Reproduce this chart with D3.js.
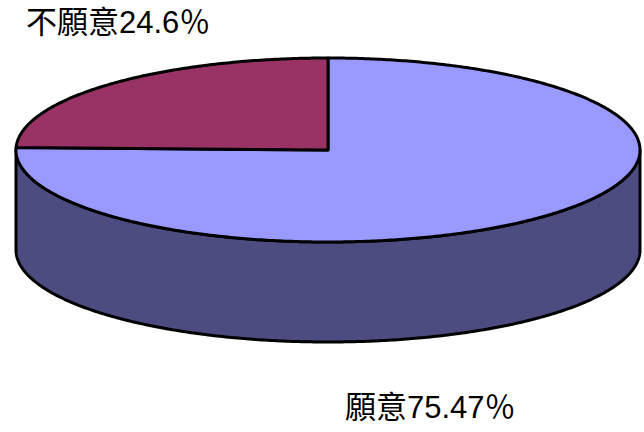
<!DOCTYPE html>
<html>
<head>
<meta charset="utf-8">
<script src="https://cdn.jsdelivr.net/npm/d3@7"></script>
<style>
  html, body { margin: 0; padding: 0; background: #fff; }
  svg { display: block; }
  text { font-family: "Liberation Sans", Arial, "Noto Sans CJK TC", sans-serif; }
</style>
</head>
<body>
<svg id="chart"></svg>
<script>
const categories = ["願意", "不願意"];
const values = [75.47, 24.6];
const labels = ["願意75.47％", "不願意24.6％"];
const topColors = ["#9999ff", "#993366"];
const sideColors = ["#4c4c80", "#4d1a33"];

const width = 644, height = 432;
const cx = 328, cy = 150, rx = 312, ry = 92, depth = 100;

const svg = d3.select('#chart')
    .attr('width', width)
    .attr('height', height);

// unit circle -> flattened ellipse
const x = d3.scaleLinear().domain([-1, 1]).range([cx - rx, cx + rx]);
const y = d3.scaleLinear().domain([-1, 1]).range([cy - ry, cy + ry]);

const pie = d3.pie().sort(null).value(d => d.value);
const slices = pie(categories.map((c, i) => ({name: c, value: values[i], i})));

const pt = (a, dy = 0) => [x(Math.sin(a)), y(-Math.cos(a)) + dy];

const arcPoints = (a0, a1, dy = 0) => {
    const n = Math.max(2, Math.ceil((a1 - a0) / 0.01));
    return d3.range(n + 1).map(k => pt(a0 + (a1 - a0) * k / n, dy));
};

const line = d3.line();

// side walls (only the front half is visible)
slices.forEach(s => {
    const a0 = Math.max(s.startAngle, Math.PI / 2);
    const a1 = Math.min(s.endAngle, Math.PI * 3 / 2);
    if (a1 <= a0) return;
    const pts = arcPoints(a0, a1).concat(arcPoints(a0, a1, depth).reverse());
    svg.append('path')
        .attr('d', line(pts) + 'Z')
        .attr('fill', sideColors[s.data.i])
        .attr('stroke', '#000')
        .attr('stroke-width', 3)
        .attr('stroke-linejoin', 'round');
});

// top faces
svg.selectAll('path.top')
    .data(slices)
    .join('path')
    .attr('class', 'top')
    .attr('d', s => line([[cx, cy]].concat(arcPoints(s.startAngle, s.endAngle))) + 'Z')
    .attr('fill', s => topColors[s.data.i])
    .attr('stroke', '#000')
    .attr('stroke-width', 3)
    .attr('stroke-linejoin', 'round');

// labels
const labelPos = [[345, 418], [26, 33]];
svg.selectAll('text.lbl')
    .data(labels)
    .join('text')
    .attr('class', 'lbl')
    .attr('x', (d, i) => labelPos[i][0])
    .attr('y', (d, i) => labelPos[i][1])
    .attr('font-size', 31)
    .attr('fill', '#000')
    .text(d => d);
</script>
</body>
</html>
